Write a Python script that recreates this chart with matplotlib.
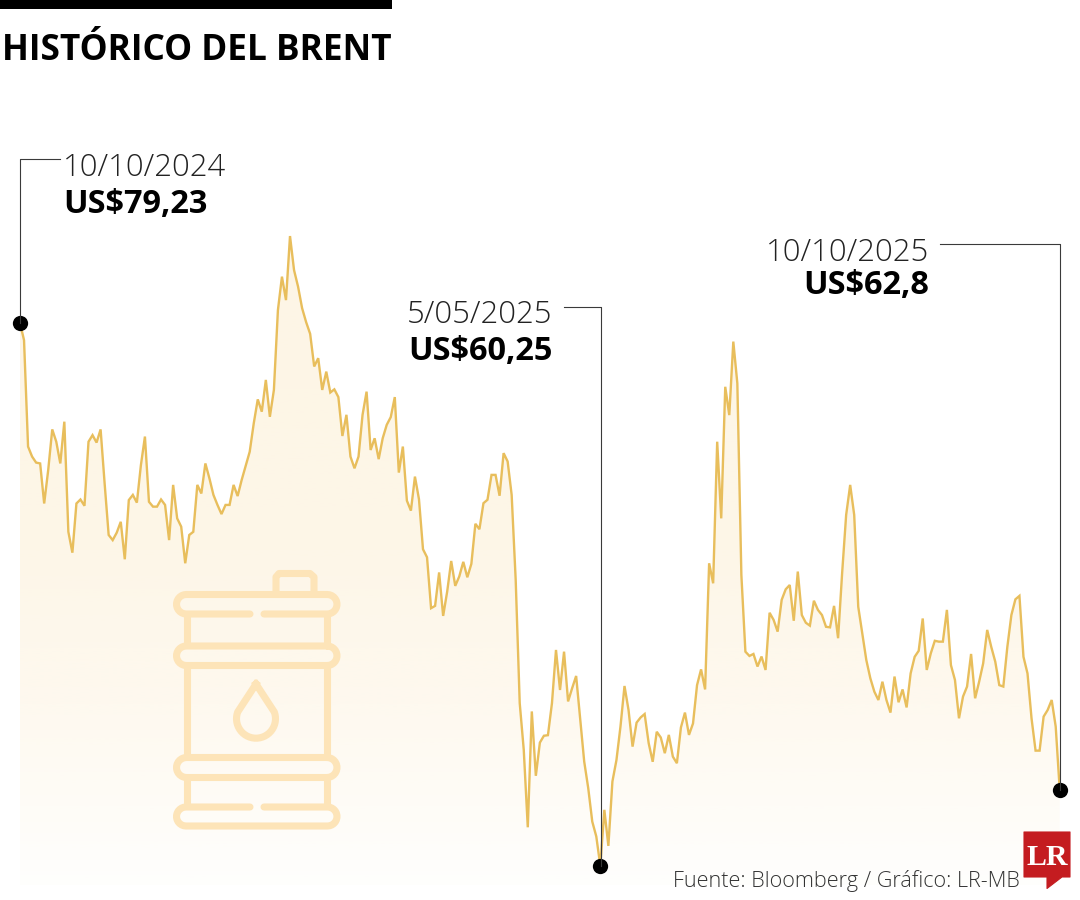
import numpy as np
import matplotlib
matplotlib.use("Agg")
import matplotlib.pyplot as plt
from matplotlib.patches import Polygon

prices = [
79.23,78.63,74.91,74.56,74.35,74.32,72.92,74.09,75.51,75.08,74.32,75.78,71.93,71.20,72.92,73.06,72.84,75.08,75.31,75.05,
75.51,73.62,71.82,71.64,71.90,72.28,70.97,73.04,73.22,72.95,74.26,75.26,72.98,72.81,72.81,73.06,72.87,71.64,73.57,72.40,
72.11,70.83,71.82,71.93,73.57,73.27,74.32,73.80,73.22,72.87,72.55,72.87,72.87,73.57,73.18,73.74,74.23,74.73,75.72,76.56,
76.13,77.24,75.95,76.89,79.68,80.85,80.03,82.27,81.08,80.50,79.75,79.26,78.85,77.71,78.00,76.89,77.53,76.80,76.91,76.64,
75.28,76.02,74.56,74.15,74.56,76.02,76.83,74.79,75.20,74.47,75.20,75.67,75.94,76.64,74.00,74.91,73.02,72.67,73.86,73.07,
71.32,71.04,69.26,69.34,70.51,68.99,69.84,70.91,70.04,70.37,70.88,70.34,70.81,72.21,72.02,72.93,73.05,73.92,73.92,73.19,
74.68,74.39,73.22,70.25,65.94,64.31,61.60,65.65,63.40,64.56,64.80,64.82,65.94,67.80,66.40,67.74,66.00,66.46,66.89,65.41,
63.90,62.97,61.80,61.28,60.25,62.21,60.95,63.20,63.95,65.12,66.54,65.70,64.42,65.26,65.44,65.56,64.54,63.89,64.94,64.74,
64.19,64.83,64.07,63.84,65.09,65.61,64.83,65.23,66.57,67.12,66.42,70.83,70.13,75.08,72.40,77.00,76.01,78.58,77.12,70.42,
67.74,67.59,67.66,67.22,67.57,67.10,69.10,68.85,68.44,69.55,69.92,70.07,68.82,70.54,69.02,68.75,68.65,69.52,69.20,69.02,
68.61,68.59,69.34,68.21,70.48,72.52,73.57,72.52,69.31,68.38,67.45,66.81,66.34,66.05,66.69,66.05,65.61,66.87,65.97,66.42,
65.79,66.98,67.56,67.77,68.90,67.10,67.68,68.12,68.09,68.09,69.20,67.27,66.75,65.41,66.17,66.52,67.66,66.11,66.69,67.33,
68.50,67.91,67.39,66.57,66.52,67.91,69.02,69.57,69.69,67.56,66.98,65.41,64.28,64.28,65.47,65.70,66.05,65.12,62.90,
]
title = "HISTÓRICO DEL BRENT"
source = "Fuente: Bloomberg / Gráfico: LR-MB"
callout_index = [0, 144, 258]
callout_dates = ["10/10/2024", "5/05/2025", "10/10/2025"]
callout_values = ["US$79,23", "US$60,25", "US$62,8"]

LINE = "#E8BE5C"
ICON = "#FDE4B8"
FILL = (0xFB / 255, 0xE3 / 255, 0xB4 / 255)
DARK = "#3A3A3A"
FONT = "Open Sans"

fig = plt.figure(figsize=(10.8, 9), dpi=100, facecolor="white")
ax = fig.add_axes([0, 0, 1, 1], zorder=1)
ov = fig.add_axes([0, 0, 1, 1], zorder=2)
ov.patch.set_alpha(0)
ov.set_xlim(0, 1080)
ov.set_ylim(900, 0)
ov.axis("off")
ax.axis("off")

x = np.arange(len(prices))
y = np.array(prices)
PX = 4.03
SC = 0.03496
XL = (-20 / PX, 1060 / PX)
YL = (79.23 - 577 * SC, 79.23 + 323 * SC)

# gradient area under the line
base = 79.23 - (885 - 323) * SC
top = y.max()
rows = np.linspace(236, 885, 256)
grad = np.zeros((256, 1, 4))
grad[..., 0], grad[..., 1], grad[..., 2] = FILL
grad[..., 3] = np.interp(rows, [236, 550, 700, 885], [0.34, 0.31, 0.22, 0.03])[:, None]
im = ax.imshow(grad, extent=[x[0], x[-1], base, top], aspect="auto", origin="upper", zorder=1, interpolation="bilinear")
ax.set_xlim(*XL)
ax.set_ylim(*YL)
poly = Polygon(np.vstack([[x[0], base], np.column_stack([x, y]), [x[-1], base]]), transform=ax.transData, fc="none", ec="none")
ax.add_patch(poly)
im.set_clip_path(poly)

ax.plot(x, y, color=LINE, lw=1.7, solid_joinstyle="miter", zorder=3)
ax.plot(x[callout_index], y[callout_index], "o", color="black", ms=11, mew=0, zorder=6)

# barrel icon
LW = 5.1


def arc(cx, cy, r, a0, a1, n=14):
    t = np.radians(np.linspace(a0, a1, n))
    return np.column_stack([cx + r * np.cos(t), cy + r * np.sin(t)])


def band(y0, y1, gap=None):
    xl, xr = 176.5, 337
    r = (y1 - y0) / 2
    cy = (y0 + y1) / 2
    right = arc(xr - r, cy, r, -90, 90)
    left = arc(xl + r, cy, r, 90, 270)
    if gap == "bottom":
        pts = np.vstack([[[264, y1]], right[::-1], left[::-1], [[250, y1]]])
    elif gap == "top":
        pts = np.vstack([[[264, y0]], right, left, [[250, y0]]])
    else:
        pts = np.vstack([right, left, right[:1]])
    ov.plot(pts[:, 0], pts[:, 1], color=ICON, lw=LW, solid_capstyle="round", solid_joinstyle="round", zorder=2)


band(594.5, 614, "bottom")
band(646, 665.5)
band(757.5, 777.5)
band(807, 826, "top")
for xw in (186.5, 326.5):
    for a, b in ((614, 646), (665.5, 757.5), (777.5, 807)):
        ov.plot([xw, xw], [a, b], color=ICON, lw=LW, solid_capstyle="butt", zorder=2)
capx = [276, 276, 279, 310, 314, 314]
capy = [593, 577, 573.5, 573.5, 577, 593]
ov.plot(capx, capy, color=ICON, lw=LW, solid_joinstyle="round", zorder=2)
drop = np.vstack([[[256, 684]], arc(256, 718.7, 19.5, -20, 200, 30), [[256, 684]]])
ov.plot(drop[:, 0], drop[:, 1], color=ICON, lw=LW, solid_joinstyle="round", zorder=2)

# leaders
ov.plot([20, 20, 60], [323, 158.5, 158.5], color=DARK, lw=0.8, zorder=4)
ov.plot([564, 601, 601], [307, 307, 866], color=DARK, lw=0.8, zorder=4)
ov.plot([940, 1059.5, 1059.5], [244, 244, 790], color=DARK, lw=0.8, zorder=4)

# header
ov.add_patch(plt.Rectangle((0, 0), 392, 8.5, fc="black", ec="none"))
ov.text(1.5, 59.5, title, fontsize=25.4, fontweight="bold", family=FONT, va="baseline", ha="left", color="black")

kw_d = dict(family=FONT, fontweight="light", color="#222222", va="baseline", fontsize=22.3)
kw_v = dict(family=FONT, fontweight="bold", color="black", va="baseline", fontsize=23.4)
ov.text(63, 176, callout_dates[0], ha="left", **kw_d)
ov.text(63, 213, callout_values[0], ha="left", **kw_v)
ov.text(552.5, 323, callout_dates[1], ha="right", **kw_d)
ov.text(552.5, 360, callout_values[1], ha="right", **kw_v)
ov.text(929.5, 261, callout_dates[2], ha="right", **kw_d)
ov.text(929.5, 294, callout_values[2], ha="right", **kw_v)
ov.text(673, 887, source, family=FONT, fontsize=15.6, color="#333333", va="baseline", ha="left", fontweight="light")

# logo
logo = Polygon([(1024, 832), (1070, 832), (1070, 877), (1062, 877), (1047, 888.5), (1047, 877), (1024, 877)],
               closed=True, fc="#C41C20", ec="#C41C20", lw=0.8, joinstyle="round", zorder=3)
ov.add_patch(logo)
ov.text(1047, 865, "LR", family="Liberation Serif", fontweight="bold", fontsize=21.5, color="white", ha="center", va="baseline", zorder=4)

fig.savefig("out.png", dpi=100)
